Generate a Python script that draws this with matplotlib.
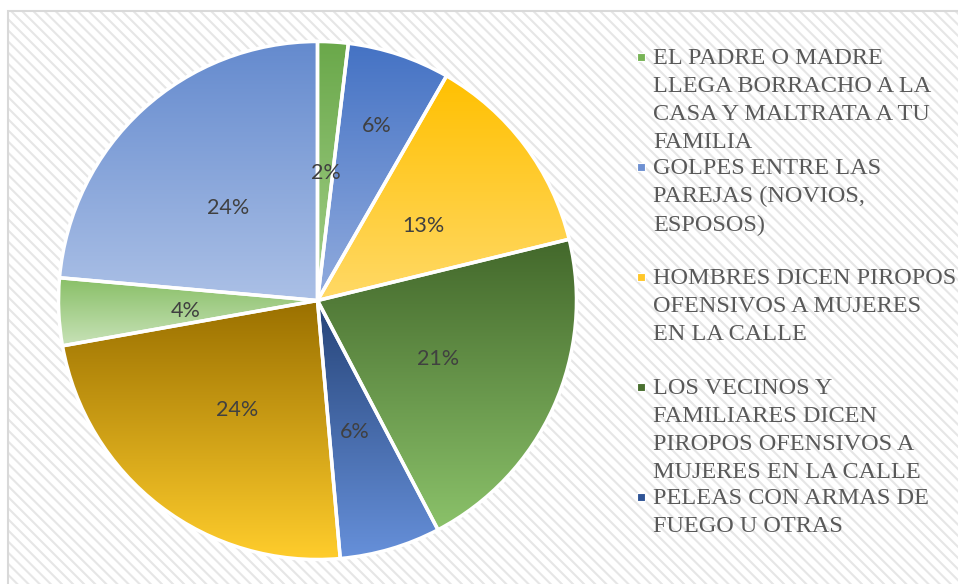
import matplotlib.pyplot as plt
import numpy as np
from matplotlib.patches import Rectangle
from matplotlib.colors import LinearSegmentedColormap

# Share of each kind of violence seen (percent), clockwise from 12 o'clock
values = [1.9, 6.4, 12.9, 21.1, 6.3, 23.6, 4.2, 23.6]

# legend text as it shows (only the first five entries fit)
legend_labels = [
    'EL PADRE O MADRE\nLLEGA BORRACHO A LA\nCASA Y MALTRATA A TU\nFAMILIA',
    'GOLPES ENTRE LAS\nPAREJAS (NOVIOS,\nESPOSOS)',
    'HOMBRES DICEN PIROPOS\nOFENSIVOS A MUJERES\nEN LA CALLE',
    'LOS VECINOS Y\nFAMILIARES DICEN\nPIROPOS OFENSIVOS A\nMUJERES EN LA CALLE',
    'PELEAS CON ARMAS DE\nFUEGO U OTRAS',
]

# gradient colours, top -> bottom of each slice
top_colors = ['#6aa84a', '#4472c4', '#ffc000', '#43682b', '#264478', '#9a7000', '#88bf66', '#648ace']
bottom_colors = ['#a4d08a', '#92acde', '#ffd966', '#8bc26a', '#6690da', '#ffcd2c', '#c8e2b8', '#abc0e6']
legend_colors = ['#78b456', '#6e90d2', '#ffc72a', '#4a7030', '#2f5496']

W, H = 958, 584
fig = plt.figure(figsize=(W / 100, H / 100), dpi=100)

# chart area: hatched background with light border
plt.rcParams['hatch.linewidth'] = 1.5
fig.patches.append(Rectangle((8 / W, -0.05), 1.0, (H - 11) / H + 0.05, transform=fig.transFigure,
                             facecolor='white', edgecolor='#e6e6e6', linewidth=0, hatch='\\\\\\', zorder=-2))
fig.patches.append(Rectangle((8 / W, -0.05), 1.0, (H - 11) / H + 0.05, transform=fig.transFigure,
                             facecolor='none', edgecolor='#d9d9d9', linewidth=1.5, zorder=-1))

r_px = 259
cx, cy = 317.5, H - 300.5
ax = fig.add_axes([(cx - 262) / W, (cy - 262) / H, 524 / W, 524 / H])
ax.set_axis_off()

wedges, texts, autotexts = ax.pie(
    values, startangle=90, counterclock=False,
    autopct=lambda p: f'{p:.0f}%', pctdistance=0.51,
    wedgeprops=dict(facecolor='none', edgecolor='white', linewidth=2.5),
    textprops=dict(family='Lato', fontsize=15.5, color='#404040'))

grad = np.linspace(0, 1, 256)[:, None]
for w, c0, c1 in zip(wedges, top_colors, bottom_colors):
    ext = w.get_path().get_extents()
    cmap = LinearSegmentedColormap.from_list('g', [c0, c1])
    im = ax.imshow(grad, cmap=cmap, extent=[ext.x0, ext.x1, ext.y0, ext.y1],
                   origin='upper', aspect='auto', zorder=1, interpolation='bilinear')
    im.set_clip_path(w)
    w.set_zorder(2)

# the small blue slice label sits further out; glyphs centred a bit lower
for i, (w, t) in enumerate(zip(wedges, autotexts)):
    th = np.deg2rad((w.theta1 + w.theta2) / 2)
    d = 0.73 if i == 1 else 0.51
    t.set_position((d * np.cos(th), d * np.sin(th) - 4.5 / r_px))
    t.set_zorder(3)

lim = 262 / r_px
ax.set_xlim(-lim, lim)
ax.set_ylim(-lim, lim)

# legend drawn by hand: fixed slot per entry
for i, (lab, col) in enumerate(zip(legend_labels, legend_colors)):
    yc = 57 + 110 * i
    fig.patches.append(Rectangle((637 / W, (H - yc - 4) / H), 8 / W, 8 / H, transform=fig.transFigure,
                                 facecolor=col, edgecolor='white', linewidth=0.8, zorder=2))
    fig.text(653 / W, (H - yc + 9) / H, lab, ha='left', va='top', family='Liberation Serif',
             fontsize=17.5, color='#595959', linespacing=1.445)

fig.savefig('out.png', dpi=100)
